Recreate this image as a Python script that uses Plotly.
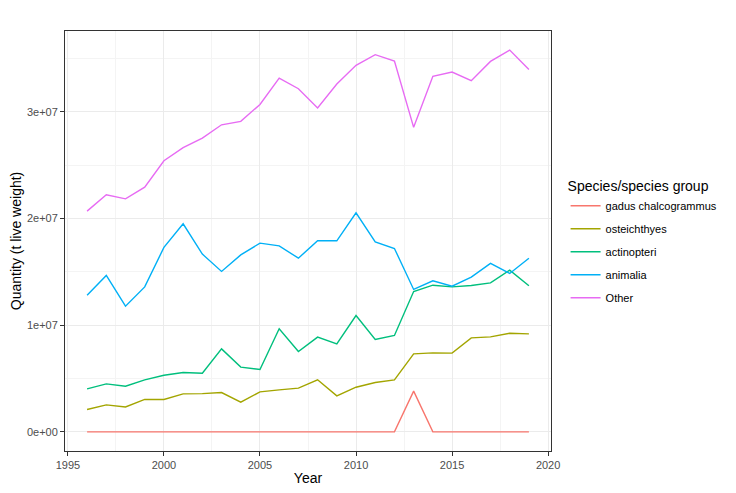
import plotly.graph_objects as go

# Data
years = list(range(1996, 2020))

gadus = [0, 0, 0, 0, 0, 0, 0, 0, 0, 0, 0, 0, 0, 0, 0, 0, 0,
         3.82e6, 0, 0, 0, 0, 0, 0]
osteichthyes = [2.10e6, 2.53e6, 2.34e6, 3.04e6, 3.04e6, 3.56e6, 3.59e6, 3.69e6,
                2.78e6, 3.75e6, 3.94e6, 4.10e6, 4.88e6, 3.38e6, 4.19e6, 4.63e6,
                4.88e6, 7.31e6, 7.41e6, 7.38e6, 8.81e6, 8.91e6, 9.25e6, 9.19e6]
actinopteri = [4.03e6, 4.50e6, 4.28e6, 4.88e6, 5.31e6, 5.57e6, 5.50e6, 7.78e6,
               6.07e6, 5.85e6, 9.66e6, 7.54e6, 8.88e6, 8.25e6, 10.91e6, 8.66e6,
               9.04e6, 13.16e6, 13.75e6, 13.59e6, 13.72e6, 13.97e6, 15.16e6, 13.69e6]
animalia = [12.81e6, 14.66e6, 11.78e6, 13.59e6, 17.29e6, 19.50e6, 16.66e6, 15.04e6,
            16.59e6, 17.69e6, 17.44e6, 16.28e6, 17.91e6, 17.91e6, 20.53e6, 17.81e6,
            17.19e6, 13.35e6, 14.16e6, 13.66e6, 14.50e6, 15.79e6, 14.85e6, 16.28e6]
other = [20.69e6, 22.22e6, 21.84e6, 22.94e6, 25.41e6, 26.63e6, 27.53e6, 28.78e6,
         29.10e6, 30.69e6, 33.16e6, 32.16e6, 30.35e6, 32.60e6, 34.35e6, 35.35e6,
         34.75e6, 28.54e6, 33.32e6, 33.72e6, 32.91e6, 34.72e6, 35.78e6, 33.97e6]

series_names = ["gadus chalcogrammus", "osteichthyes", "actinopteri", "animalia", "Other"]
series_values = [gadus, osteichthyes, actinopteri, animalia, other]
colors = ["#F8766D", "#A3A500", "#00BF7D", "#00B0F6", "#E76BF3"]

x_ticks = [1995, 2000, 2005, 2010, 2015, 2020]
y_ticks = [0, 1e7, 2e7, 3e7]
y_tick_labels = ["0e+00", "1e+07", "2e+07", "3e+07"]

fig = go.Figure()
for name, vals, col in zip(series_names, series_values, colors):
    fig.add_trace(go.Scatter(
        x=years, y=vals, mode="lines", name=name,
        legendgroup=name,
        line=dict(color=col, width=1.4),
    ))

# ggplot-style expanded ranges
ymax = max(other)
xr = [1996 - 0.05 * 23, 2019 + 0.05 * 23]
yr = [-0.05 * ymax, ymax * 1.05]

axis_common = dict(
    automargin=False,
    showline=True, linecolor="#333333", linewidth=1, mirror=True,
    showgrid=True, gridcolor="#EBEBEB", gridwidth=1.1,
    zeroline=False,
    ticks="outside", ticklen=4, tickcolor="#333333", tickwidth=1,
    tickfont=dict(family="Liberation Sans, Arial", size=11, color="#4D4D4D"),
)

fig.update_xaxes(
    **axis_common,
    range=xr, tickvals=x_ticks,
    minor=dict(tickvals=[1997.5, 2002.5, 2007.5, 2012.5, 2017.5],
               showgrid=True, gridcolor="#F4F4F4", gridwidth=0.6, ticks=""),
    title=dict(text="Year", font=dict(family="Liberation Sans, Arial", size=14, color="black"),
               standoff=2),
)
fig.update_yaxes(
    **axis_common,
    range=yr, tickvals=y_ticks, ticktext=y_tick_labels,
    minor=dict(tickvals=[0.5e7, 1.5e7, 2.5e7, 3.5e7],
               showgrid=True, gridcolor="#F4F4F4", gridwidth=0.6, ticks=""),
    title=dict(text="Quantity (t live weight)",
               font=dict(family="Liberation Sans, Arial", size=14, color="black"),
               standoff=4),
)

# page body has an ~8px margin, so the figure is a bit smaller and shifted
fig.update_layout(
    width=728, height=485,
    margin=dict(l=57, r=185, t=23, b=42),
    plot_bgcolor="white", paper_bgcolor="white",
    legend=dict(
        title=dict(text="Species/species group",
                   font=dict(family="Liberation Sans, Arial", size=14, color="black")),
        font=dict(family="Liberation Sans, Arial", size=11, color="black"),
        x=1.03, xanchor="left", y=0.495, yanchor="middle",
        tracegroupgap=4, itemwidth=30,
    ),
)

fig.write_html("out.html")
